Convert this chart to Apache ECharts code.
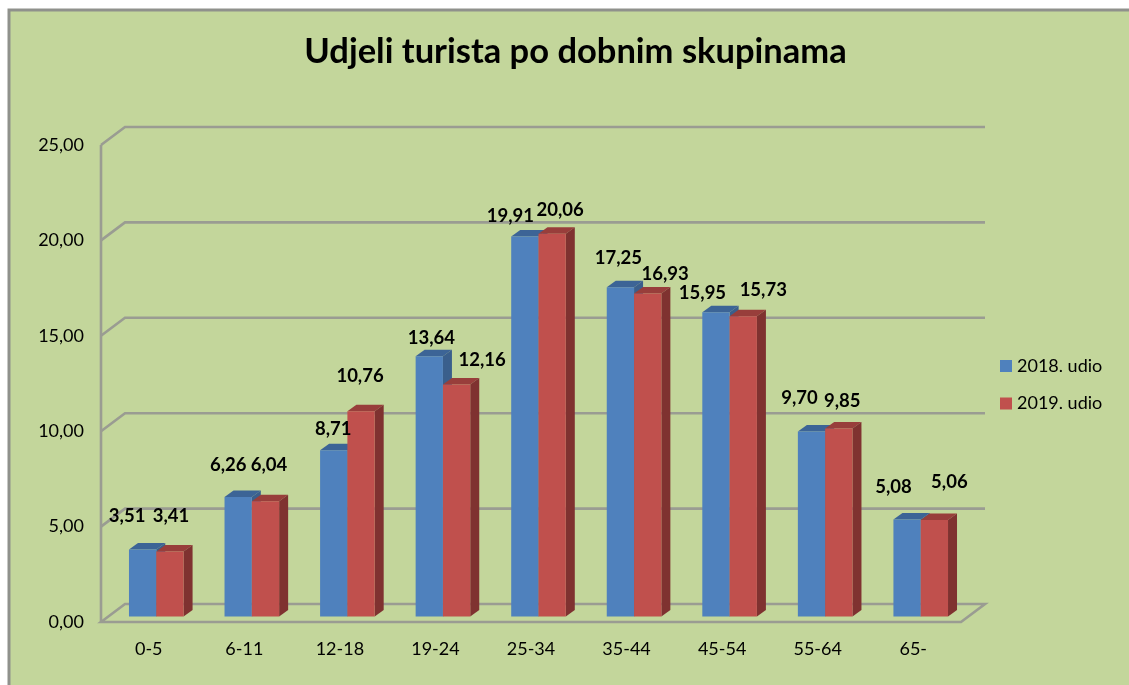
<!DOCTYPE html>
<html><head><meta charset="utf-8">
<style>html,body{margin:0;padding:0;background:#fff}#c{width:1129px;height:685px}</style>
<script src="https://cdn.jsdelivr.net/npm/echarts@6/dist/echarts.min.js"></script>
</head><body><div id="c"></div>
<script>
const categories = ['0-5','6-11','12-18','19-24','25-34','35-44','45-54','55-64','65-'];
const values2018 = [3.51,6.26,8.71,13.64,19.91,17.25,15.95,9.70,5.08];
const values2019 = [3.41,6.04,10.76,12.16,20.06,16.93,15.73,9.85,5.06];
const seriesNames = ['2018. udio','2019. udio'];
const yTicks = [0,5,10,15,20,25];
const titleText = 'Udjeli turista po dobnim skupinama';
// hand-placed label offsets from the top centre of each bar (as in the original)
const labelOffsets2018 = [[-15.5,-33.5],[-10,-32],[-0.5,-21],[2,-18],[-14.5,-20.6],[-2,-29.4],[-13.5,-19],[-12,-33.4],[-13.5,-32.6]];
const labelOffsets2019 = [[1,-35.4],[3.5,-36.3],[-1,-35.2],[25.5,-24.5],[8,-23.7],[17.5,-19.5],[20,-26.4],[3.5,-27.6],[15,-38]];

const FONT = 'Lato, Carlito, sans-serif';
const WALL = {x:24, y:-18};
const BAR = {w:27.3, dx:7.5, dy:-5.5, sx:9, sy:-6.5};
const WALL_COLOR = '#9a9c92';
const fmt = v => v.toFixed(2).replace('.', ',');

function wallItem(params, api){
  const v = api.value(0);
  const r = params.coordSys;
  const y = api.coord([0, v])[1];
  const x0 = r.x, x1 = r.x + r.width;
  const style = {stroke:WALL_COLOR, lineWidth:2.6, fill:null};
  const children = [];
  if (v === 0) {
    const pts = [[x0,y],[x0+WALL.x,y+WALL.y],[x1+WALL.x,y+WALL.y],[x1,y]];
    children.push({type:'polygon', shape:{points:pts}, style});
    children.push({type:'line', shape:{x1:x0,y1:y,x2:x0,y2:api.coord([0, yTicks[yTicks.length-1]])[1]}, style});
  } else {
    children.push({type:'polyline', shape:{points:[[x0,y],[x0+WALL.x,y+WALL.y],[x1+WALL.x,y+WALL.y]]}, style});
  }
  return {type:'group', silent:true, children};
}
function barItem(shift, colors, offsets){
  return function(params, api){
    const i = api.value(0), v = api.value(1);
    const c = api.coord([i, v]), b = api.coord([i, 0]);
    const xL = c[0] + BAR.dx + shift*BAR.w;
    const xR = xL + BAR.w;
    const yT = c[1] + BAR.dy, yB = b[1] + BAR.dy;
    const o = offsets[i];
    return {type:'group', children:[
      {type:'polygon', shape:{points:[[xL,yT],[xL+BAR.sx,yT+BAR.sy],[xR+BAR.sx,yT+BAR.sy],[xR,yT]]}, style:{fill:colors.top}},
      {type:'polygon', shape:{points:[[xR,yT],[xR+BAR.sx,yT+BAR.sy],[xR+BAR.sx,yB+BAR.sy],[xR,yB]]}, style:{fill:colors.side}},
      {type:'rect', shape:{x:xL,y:yT,width:BAR.w,height:yB-yT}, style:{fill:colors.front}},
      {type:'text', z2:50, style:{text:fmt(v), x:xL+BAR.w/2+o[0], y:yT+o[1], align:'center', verticalAlign:'middle',
        font:'bold 18.5px '+FONT, fill:'#000'}}
    ]};
  };
}
const blue = {front:'#4F81BD', top:'#3C6496', side:'#3A5F8C'};
const red = {front:'#C0504D', top:'#983E3B', side:'#7F3230'};

const chart = echarts.init(document.getElementById('c'), null, {renderer:'canvas'});
chart.setOption({
  animation:false,
  backgroundColor:'#fff',
  graphic:[{type:'rect', z:-10, shape:{x:9,y:10,width:1125,height:680},
    style:{fill:'#C3D69B', stroke:'#8f918c', lineWidth:3}}],
  title:{text:titleText, left:570.5, top:29, textAlign:'center',
    textStyle:{fontFamily:FONT, fontWeight:'bold', fontSize:34.5, color:'#000'}},
  legend:{left:995, top:352, orient:'vertical', itemWidth:12, itemHeight:12, itemGap:19.5, icon:'rect',
    data:seriesNames, selectedMode:false, textStyle:{fontFamily:FONT, fontSize:18, color:'#000'}},
  grid:{left:101, right:168, top:145, bottom:63},
  xAxis:{type:'category', data:categories, boundaryGap:true,
    axisLine:{show:false}, axisTick:{show:false},
    axisLabel:{fontFamily:FONT, fontSize:18, color:'#000', margin:18}},
  yAxis:{type:'value', min:0, max:25, interval:5,
    axisLine:{show:false}, axisTick:{show:false}, splitLine:{show:false},
    axisLabel:{fontFamily:FONT, fontSize:18, color:'#000', margin:17, padding:[3,0,0,0], formatter:fmt}},
  series:[
    {type:'custom', name:'wall', silent:true, z:1, clip:false, data:yTicks.map(t=>[t]),
      encode:{y:0}, renderItem:wallItem},
    {type:'custom', name:seriesNames[0], z:3, itemStyle:{color:blue.front}, clip:false,
      data:values2018.map((v,i)=>[i,v]), encode:{x:0,y:1}, renderItem:barItem(-1, blue, labelOffsets2018)},
    {type:'custom', name:seriesNames[1], z:3, itemStyle:{color:red.front}, clip:false,
      data:values2019.map((v,i)=>[i,v]), encode:{x:0,y:1}, renderItem:barItem(0, red, labelOffsets2019)}
  ]
});
</script></body></html>
